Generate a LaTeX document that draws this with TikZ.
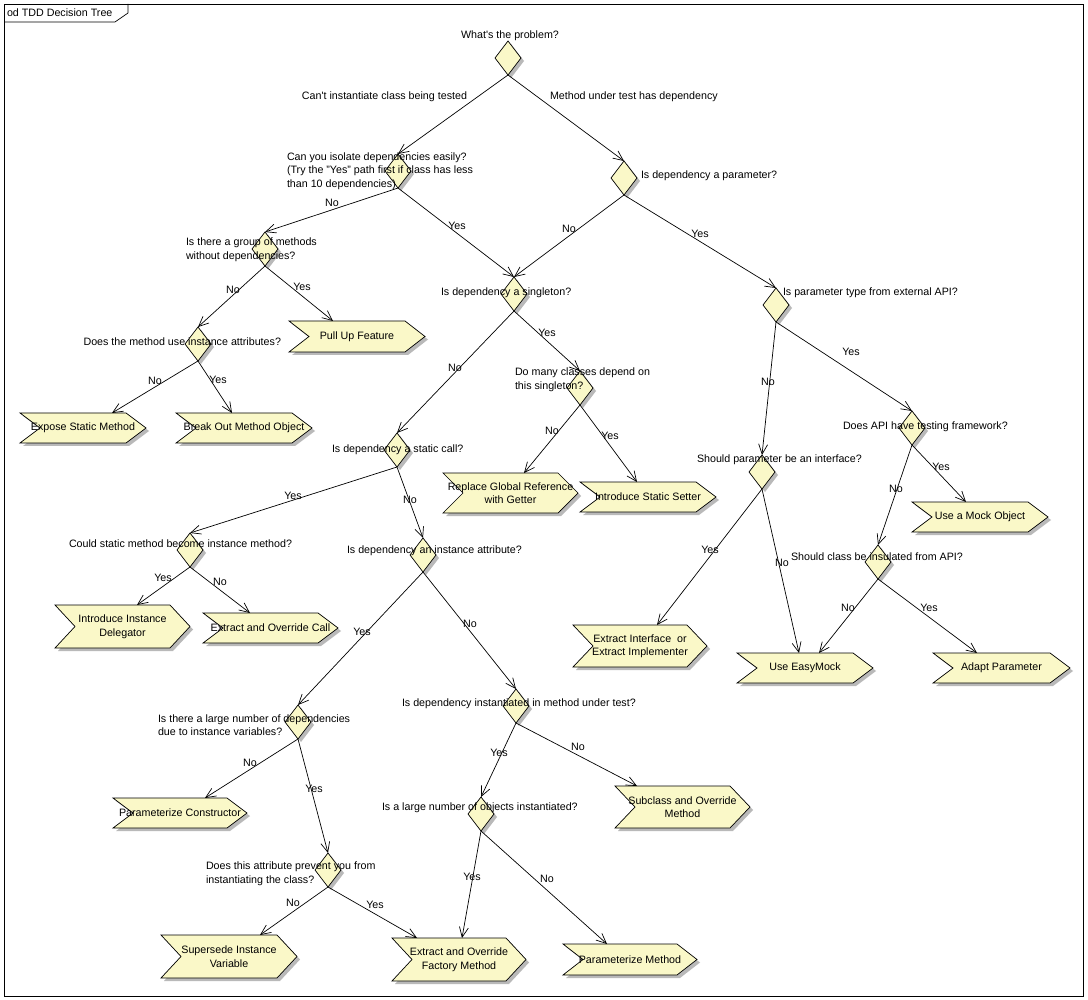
\documentclass[tikz,border=0pt]{standalone}
\usepackage{fontspec}
\setmainfont{Liberation Sans}
\usetikzlibrary{shapes.geometric,arrows.meta,calc,shadows,backgrounds}
\definecolor{nodefill}{RGB}{250,248,200}
\definecolor{shadowc}{RGB}{185,185,185}
\tikzset{
  txt/.style={font=\fontsize{10.7pt}{13.5pt}\selectfont, inner sep=0pt, outer sep=0pt},
  dia/.style={draw, diamond, fill=nodefill, minimum width=26pt, minimum height=34pt,
    inner sep=0pt, outer sep=0pt, line width=0.7pt,
    drop shadow={shadow xshift=3pt, shadow yshift=-3pt, fill=shadowc, opacity=1}},
  arr/.style={line width=0.7pt, -{Straight Barb[length=10pt,width=9pt,line width=0.7pt]}},
  plain/.style={line width=0.7pt},
}
% name, left, top, width, height, text
\newcommand{\actbox}[6]{%
  \node[txt, align=center, minimum width=#4pt, minimum height=#5pt, anchor=north west] (#1) at (#2,#3) {#6};
  \begin{pgfonlayer}{background}
    \fill[shadowc, transform canvas={shift={(3pt,-3pt)}}] (#1.north west) -- ($(#1.north east)+(-20,0)$) -- (#1.east) -- ($(#1.south east)+(-20,0)$) -- (#1.south west) -- ($(#1.west)+(20,0)$) -- cycle;
    \draw[plain, fill=nodefill] (#1.north west) -- ($(#1.north east)+(-20,0)$) -- (#1.east) -- ($(#1.south east)+(-20,0)$) -- (#1.south west) -- ($(#1.west)+(20,0)$) -- cycle;
  \end{pgfonlayer}}
\begin{document}
\begin{tikzpicture}[x=1pt,y=-1pt]
\useasboundingbox (0,0) rectangle (1088,1000);
\begin{pgfonlayer}{background}
\fill[white] (0,0) rectangle (1088,1000);
\end{pgfonlayer}
% frame
\draw[line width=0.7pt] (4,4) rectangle (1083,996);
\draw[line width=0.7pt] (4,22) -- (115,22) -- (128,13) -- (128,4);
\node[txt, anchor=west] (title) at (7,13) {od TDD Decision Tree};

% decisions
\node[dia] (D1) at (508,58) {};
\node[dia] (D2) at (398,171) {};
\node[dia] (D3) at (624,178) {};
\node[dia] (D4) at (265,249) {};
\node[dia] (D5) at (514,294) {};
\node[dia] (D6) at (776,305) {};
\node[dia] (D7) at (198,344) {};
\node[dia] (D8) at (580,388) {};
\node[dia] (D9) at (397,450) {};
\node[dia] (D10) at (912,428) {};
\node[dia] (D11) at (762,472) {};
\node[dia] (D12) at (190,550) {};
\node[dia] (D13) at (423,555) {};
\node[dia] (D14) at (878,562) {};
\node[dia] (D15) at (298,722) {};
\node[dia] (D16) at (516,706) {};
\node[dia] (D17) at (481,814) {};
\node[dia] (D18) at (328,870) {};

% actions
\actbox{B1}{289}{321}{136}{31}{Pull Up Feature}
\actbox{B2}{20}{413}{126}{30}{Expose Static Method}
\actbox{B3}{176}{413}{136}{30}{Break Out Method Object}
\actbox{B4}{443}{473}{135}{40}{Replace Global Reference\\with Getter}
\actbox{B5}{580}{482}{136}{30}{Introduce Static Setter}
\actbox{B6}{912}{502}{136}{30}{Use a Mock Object}
\actbox{B7}{55}{605}{135}{43}{Introduce Instance\\Delegator}
\actbox{B8}{203}{613}{135}{30}{Extract and Override Call}
\actbox{B9}{573}{625}{134}{42}{Extract Interface\ \ or\\Extract Implementer}
\actbox{B10}{737}{653}{136}{30}{Use EasyMock}
\actbox{B11}{933}{653}{137}{30}{Adapt Parameter}
\actbox{B12}{113}{798}{134}{30}{Parameterize Constructor}
\actbox{B13}{615}{786}{135}{42}{Subclass and Override\\Method}
\actbox{B14}{161}{935}{136}{43}{Supersede Instance\\Variable}
\actbox{B15}{392}{938}{134}{43}{Extract and Override\\Factory Method}
\actbox{B16}{563}{944}{134}{31}{Parameterize Method}

% connectors
\draw[arr] (D1.south) -- (D2.north);
\draw[arr] (D1.south) -- (D3.north);
\draw[arr] (D2.south) -- (D4.north);
\draw[arr] (D2.south) -- (D5.north);
\draw[arr] (D3.south) -- (D5.north);
\draw[arr] (D3.south) -- (D6.north);
\draw[arr] (D4.south) -- (D7.north);
\draw[arr] (D4.south) -- ($(B1.north west)+(44,0)$);
\draw[arr] (D5.south) -- (D9.north);
\draw[arr] (D5.south) -- (D8.north);
\draw[arr] (D6.south) -- (D11.north);
\draw[arr] (D6.south) -- (D10.north);
\draw[arr] (D7.south) -- ($(B2.north west)+(92,0)$);
\draw[arr] (D7.south) -- ($(B3.north west)+(56,0)$);
\draw[arr] (D8.south) -- ($(B4.north west)+(81,0)$);
\draw[arr] (D8.south) -- ($(B5.north west)+(57,0)$);
\draw[arr] (D9.south) -- (D12.north);
\draw[arr] (D9.south) -- (D13.north);
\draw[arr] (D10.south) -- (D14.north);
\draw[arr] (D10.south) -- ($(B6.north west)+(54,0)$);
\draw[arr] (D11.south) -- ($(B9.north west)+(84,0)$);
\draw[arr] (D11.south) -- ($(B10.north west)+(62,0)$);
\draw[arr] (D12.south) -- ($(B7.north west)+(82,0)$);
\draw[arr] (D12.south) -- ($(B8.north west)+(47,0)$);
\draw[arr] (D13.south) -- (D15.north);
\draw[arr] (D13.south) -- (D16.north);
\draw[arr] (D14.south) -- ($(B10.north west)+(82,0)$);
\draw[arr] (D14.south) -- ($(B11.north west)+(44,0)$);
\draw[arr] (D15.south) -- ($(B12.north west)+(92,0)$);
\draw[arr] (D15.south) -- (D18.north);
\draw[arr] (D16.south) -- (D17.north);
\draw[arr] (D16.south) -- ($(B13.north west)+(22,0)$);
\draw[arr] (D17.south) -- ($(B15.north west)+(70,0)$);
\draw[arr] (D17.south) -- ($(B16.north west)+(44,0)$);
\draw[arr] (D18.south) -- ($(B14.north west)+(99,0)$);
\draw[arr] (D18.south) -- ($(B15.north west)+(25,0)$);

% decision texts
\node[txt] (Q1) at (510,36) {What\textquotesingle s the problem?};
\node[txt, anchor=west, align=left] (Q2) at (287,171) {Can you isolate dependencies easily?\\(Try the "Yes" path first if class has less\\than 10 dependencies)};
\node[txt, anchor=west] (Q3) at (641,176) {Is dependency a parameter?};
\node[txt, anchor=west, align=left] (Q4) at (186,249.5) {Is there a group of methods\\without dependencies?};
\node[txt, anchor=west] (Q5) at (441,293) {Is dependency a singleton?};
\node[txt, anchor=west] (Q6) at (783,293) {Is parameter type from external API?};
\node[txt, anchor=east] (Q7) at (281,342) {Does the method use instance attributes?};
\node[txt, anchor=west, align=left] (Q8) at (515,379.5) {Do many classes depend on\\this singleton?};
\node[txt, anchor=west] (Q9) at (332,450) {Is dependency a static call?};
\node[txt, anchor=west] (Q10) at (843,427) {Does API have testing framework?};
\node[txt, anchor=west] (Q11) at (697,460) {Should parameter be an interface?};
\node[txt, anchor=west] (Q12) at (69,544) {Could static method become instance method?};
\node[txt, anchor=west] (Q13) at (347,551) {Is dependency an instance attribute?};
\node[txt, anchor=west] (Q14) at (791,557) {Should class be insulated from API?};
\node[txt, anchor=west, align=left] (Q15) at (158,725) {Is there a large number of dependencies\\due to instance variables?};
\node[txt, anchor=west] (Q16) at (402,704) {Is dependency instantiated in method under test?};
\node[txt, anchor=west] (Q17) at (382,808) {Is a large number of objects instantiated?};
\node[txt, anchor=west, align=left] (Q18) at (206,873.5) {Does this attribute prevent you from\\instantiating the class?};

% connector labels
\node[txt, anchor=east] (e1) at (467,97) {Can\textquotesingle t instantiate class being tested};
\node[txt, anchor=west] (e2) at (550,97) {Method under test has dependency};
\node[txt] (e3) at (332,203) {No};
\node[txt] (e4) at (457,226) {Yes};
\node[txt] (e5) at (569,229) {No};
\node[txt] (e6) at (700,234) {Yes};
\node[txt] (e7) at (233,290) {No};
\node[txt] (e8) at (302,287) {Yes};
\node[txt] (e9) at (455,368) {No};
\node[txt] (e10) at (547,333) {Yes};
\node[txt] (e11) at (768,382) {No};
\node[txt] (e12) at (851,352) {Yes};
\node[txt] (e13) at (155,381) {No};
\node[txt] (e14) at (218,380) {Yes};
\node[txt] (e15) at (552,431) {No};
\node[txt] (e16) at (610,436) {Yes};
\node[txt] (e17) at (293,496) {Yes};
\node[txt] (e18) at (410,500) {No};
\node[txt] (e19) at (896,489) {No};
\node[txt] (e20) at (941,467) {Yes};
\node[txt] (e21) at (710,550) {Yes};
\node[txt] (e22) at (782,563) {No};
\node[txt] (e23) at (163,578) {Yes};
\node[txt] (e24) at (220,582) {No};
\node[txt] (e25) at (362,632) {Yes};
\node[txt] (e26) at (470,624) {No};
\node[txt] (e27) at (848,608) {No};
\node[txt] (e28) at (929,608) {Yes};
\node[txt] (e29) at (250,763) {No};
\node[txt] (e30) at (314,789) {Yes};
\node[txt] (e31) at (499,753) {Yes};
\node[txt] (e32) at (578,747) {No};
\node[txt] (e33) at (472,877) {Yes};
\node[txt] (e34) at (547,879) {No};
\node[txt] (e35) at (293,903) {No};
\node[txt] (e36) at (375,905) {Yes};
\end{tikzpicture}
\end{document}
